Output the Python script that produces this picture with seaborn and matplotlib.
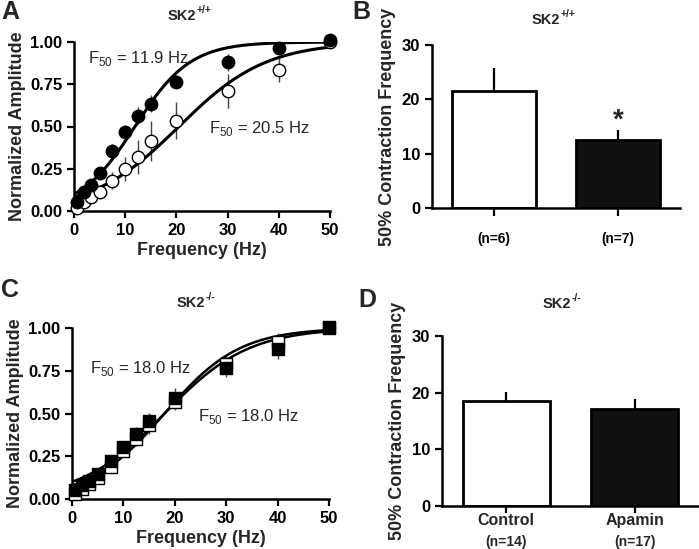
import numpy as np
import pandas as pd
import matplotlib
matplotlib.use("Agg")
import matplotlib.pyplot as plt
import seaborn as sns

sns.set_style("ticks")
plt.rcParams['font.family'] = ['Liberation Sans', 'DejaVu Sans']
plt.rcParams['mathtext.fontset'] = 'custom'
plt.rcParams['mathtext.rm'] = 'Liberation Sans'

# ---- data ----
freq = [0.5, 2, 3.3, 5, 7.5, 10, 12.5, 15, 20, 30, 40, 50]

# panel A (SK2+/+)
a_filled = [0.055, 0.11, 0.155, 0.225, 0.355, 0.47, 0.565, 0.635, 0.765, 0.88, 0.965, 1.01]
a_filled_err = [0.01, 0.02, 0.02, 0.02, 0.04, 0.04, 0.05, 0.05, 0.04, 0.05, 0.02, 0.0]
a_open = [0.02, 0.055, 0.085, 0.11, 0.18, 0.25, 0.32, 0.415, 0.535, 0.71, 0.835, 1.0]
a_open_err = [0.01, 0.02, 0.02, 0.02, 0.05, 0.07, 0.10, 0.12, 0.11, 0.10, 0.07, 0.0]
a_fit = {"filled": (11.9, 5.4), "open": (20.5, 8.5)}   # F50, slope

# panel C (SK2-/-)
c_filled = [0.053, 0.08, 0.107, 0.145, 0.22, 0.307, 0.38, 0.455, 0.59, 0.766, 0.88, 1.005]
c_filled_err = [0.01, 0.02, 0.02, 0.02, 0.03, 0.03, 0.04, 0.05, 0.06, 0.05, 0.06, 0.0]
c_open = [0.03, 0.06, 0.085, 0.125, 0.19, 0.28, 0.35, 0.43, 0.57, 0.79, 0.92, 1.0]
c_open_err = [0.01, 0.02, 0.02, 0.02, 0.03, 0.03, 0.04, 0.05, 0.05, 0.05, 0.05, 0.0]
c_fit = {"filled": (18.0, 7.3), "open": (18.0, 8.2)}

# panel B
b_labels = ["(n=6)", "(n=7)"]
b_values = [21.5, 12.5]
b_err = [4.3, 1.8]

# panel D
d_labels = ["Control", "Apamin"]
d_n = ["(n=14)", "(n=17)"]
d_values = [18.6, 17.2]
d_err = [1.6, 1.7]

W, H = 699, 549
fig = plt.figure(figsize=(W / 100, H / 100), dpi=100)


def px_axes(l, r, t, b):
    return fig.add_axes([l / W, 1 - b / H, (r - l) / W, (b - t) / H])


def style(ax):
    sns.despine(ax=ax)
    for s in ["left", "bottom"]:
        ax.spines[s].set_linewidth(1.8)
        ax.spines[s].set_color("black")
    ax.tick_params(direction="out", length=5, width=1.6, colors="black",
                   labelsize=12)
    for lab in ax.get_xticklabels() + ax.get_yticklabels():
        lab.set_fontweight("bold")


def logistic(x, f50, k):
    return 1.0 / (1.0 + np.exp((f50 - x) / k))


xs = np.linspace(0, 50, 300)


def curve_panel(ax, filled, filled_err, opn, opn_err, fit, marker, ms, lw):
    for key in ["open", "filled"]:
        f50, k = fit[key]
        df = pd.DataFrame({"x": xs, "y": logistic(xs, f50, k)})
        sns.lineplot(data=df, x="x", y="y", ax=ax, color="black", lw=lw,
                     zorder=3)
    ax.errorbar(freq, opn, yerr=opn_err, fmt="none", ecolor="#444444",
                elinewidth=1.0, zorder=2, clip_on=False)
    ax.errorbar(freq, filled, yerr=filled_err, fmt="none", ecolor="#444444",
                elinewidth=1.0, zorder=2, clip_on=False)
    sns.scatterplot(x=freq, y=opn, ax=ax, marker=marker, s=ms, color="white",
                    edgecolor="black", linewidth=1.0, zorder=4, clip_on=False)
    sns.scatterplot(x=freq, y=filled, ax=ax, marker=marker, s=ms, color="black",
                    edgecolor="black", linewidth=1.0, zorder=5, clip_on=False)
    ax.set_xlim(0, 50)
    ax.set_ylim(0, 1.0)
    ax.set_xticks([0, 10, 20, 30, 40, 50])
    ax.set_yticks([0, 0.25, 0.5, 0.75, 1.0])
    ax.set_yticklabels(["0.00", "0.25", "0.50", "0.75", "1.00"])
    ax.set_xlabel("Frequency (Hz)", fontsize=13, fontweight="bold", labelpad=3)
    ax.set_ylabel("Normalized Amplitude", fontsize=13, fontweight="bold",
                  labelpad=3)
    style(ax)


def bar_panel(ax, labels, values, err):
    df = pd.DataFrame({"g": labels, "v": values})
    sns.barplot(data=df, x="g", y="v", ax=ax, hue="g", legend=False,
                palette=["white", "#111111"], edgecolor="black", linewidth=2.0,
                width=0.68, errorbar=None)
    ax.errorbar(range(len(values)), values, yerr=[[0] * len(err), err],
                fmt="none", ecolor="black", elinewidth=1.6, capsize=0)
    ax.set_xlim(-0.5, 1.5)
    ax.set_ylim(0, 30)
    ax.set_yticks([0, 10, 20, 30])
    ax.set_xlabel("")
    ax.set_ylabel("50% Contraction Frequency", fontsize=13, fontweight="bold",
                  labelpad=4)
    style(ax)


def f50_text(x, y, val):
    fig.text(x / W, 1 - y / H, r"F$_{\mathregular{50}}$ = " + val + " Hz",
             fontsize=12, va="center")


# ---- A ----
axA = px_axes(74, 330, 42, 211)
curve_panel(axA, a_filled, a_filled_err, a_open, a_open_err, a_fit, "o", 80, 2.2)
f50_text(88, 58, "11.9")
f50_text(209, 128, "20.5")

# ---- B ----
axB = px_axes(432, 680, 45, 208)
bar_panel(axB, b_labels, b_values, b_err)
axB.tick_params(axis="x", length=6, pad=11, labelsize=9.8)
for lab in axB.get_xticklabels():
    lab.set_fontweight("bold")
axB.text(1, b_values[1] + b_err[1] - 0.7, "*", ha="center", va="bottom",
         fontsize=20, fontweight="bold")

# ---- C ----
axC = px_axes(72, 329, 328, 499)
curve_panel(axC, c_filled, c_filled_err, c_open, c_open_err, c_fit, "s", 75, 1.8)
f50_text(90, 368, "18.0")
f50_text(198, 416, "18.0")

# ---- D ----
axD = px_axes(442, 699, 336, 506)
bar_panel(axD, d_labels, d_values, d_err)
axD.set_xticklabels([])
for i, (lab, n) in enumerate(zip(d_labels, d_n)):
    axD.text(i, -1.2, lab, ha="center", va="top", fontsize=11.5,
             fontweight="bold")
    axD.text(i, -5.1, n, ha="center", va="top", fontsize=10, fontweight="bold")

# titles with superscripts, and panel letters
renderer = fig.canvas.get_renderer()


def sk2_title(x0, yc, sup):
    t = fig.text(x0 / W, 1 - yc / H, "SK2", ha="left", va="center",
                 fontsize=10.5, fontweight="bold")
    bb = t.get_window_extent(renderer)
    fig.text((bb.x1 + 0.5) / W, (bb.y1 - 1) / H, sup, ha="left", va="center",
             fontsize=7.5, fontweight="bold")


sk2_title(168, 16, "+/+")
sk2_title(532, 20, "+/+")
sk2_title(177, 303, "-/-")
sk2_title(543, 304, "-/-")

for letter, x, y in [("A", 1, 12), ("B", 352, 12), ("C", 1, 290), ("D", 358, 300)]:
    fig.text(x / W, 1 - y / H, letter, ha="left", va="center", fontsize=18,
             fontweight="bold")

fig.savefig("out.png", dpi=100)
